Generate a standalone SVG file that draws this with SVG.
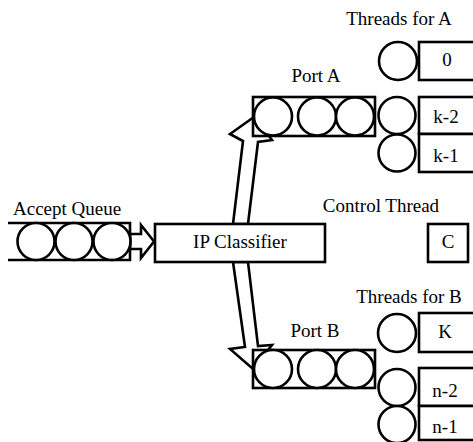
<svg xmlns="http://www.w3.org/2000/svg" width="473" height="442" viewBox="0 0 473 442">
<style>
  .ln { fill: #fff; stroke: #000; stroke-width: 2.6; stroke-linejoin: miter; }
  .open { fill: none; stroke: #000; stroke-width: 2.6; }
  .lbl { font-family: "Liberation Serif", "Times New Roman", serif; font-size: 19px; fill: #000; }
  .mid { text-anchor: middle; }
</style>
<rect width="473" height="442" fill="#fff"/>

<g id="connectors">
  <polygon class="ln" points="130,234 141,234 141,225 154,241.5 141,258 141,249 130,249"/>
  <polygon class="ln" points="233,224 243,141 230,134 254,117 272,140 258,142 248,224"/>
  <polygon class="ln" points="233,262 245,347 230,349 253,369 272,345 258,346 248,262"/>
</g>

<g id="accept-queue">
  <text class="lbl" x="13" y="215">Accept Queue</text>
  <rect x="8" y="223" width="122" height="37" fill="#fff" stroke="none"/>
  <path class="open" d="M8,223 H130 V260 H8"/>
  <circle class="ln" cx="36" cy="241.5" r="18.5"/>
  <circle class="ln" cx="74" cy="241.5" r="18.5"/>
  <circle class="ln" cx="112" cy="241.5" r="18.5"/>
</g>

<g id="ip-classifier">
  <rect class="ln" x="155" y="224" width="170" height="38"/>
  <text class="lbl mid" x="240" y="248">IP Classifier</text>
</g>

<g id="port-a">
  <text class="lbl mid" x="316" y="82">Port A</text>
  <rect class="ln" x="253" y="97" width="122" height="39"/>
  <circle class="ln" cx="273" cy="116.5" r="19"/>
  <circle class="ln" cx="317" cy="116.5" r="19"/>
  <circle class="ln" cx="355" cy="116.5" r="19"/>
</g>

<g id="port-b">
  <text class="lbl mid" x="315" y="337">Port B</text>
  <rect class="ln" x="253" y="350" width="122" height="38"/>
  <circle class="ln" cx="273" cy="369" r="19"/>
  <circle class="ln" cx="317" cy="369" r="19"/>
  <circle class="ln" cx="355" cy="369" r="19"/>
</g>

<g id="threads-a">
  <text class="lbl mid" x="399" y="25">Threads for A</text>
  <g id="thread-a-0">
    <circle class="ln" cx="398" cy="61" r="19"/>
    <rect class="ln" x="419" y="42" width="70" height="38"/>
    <text class="lbl mid" x="447" y="66">0</text>
  </g>
  <g id="thread-a-k2">
    <circle class="ln" cx="397" cy="115.5" r="18.5"/>
    <rect class="ln" x="419" y="97" width="70" height="37"/>
    <text class="lbl mid" x="446" y="123">k-2</text>
  </g>
  <g id="thread-a-k1">
    <circle class="ln" cx="397" cy="153" r="18.5"/>
    <rect class="ln" x="419" y="134" width="70" height="38"/>
    <text class="lbl mid" x="446" y="162">k-1</text>
  </g>
</g>

<g id="control-thread">
  <text class="lbl mid" x="381" y="212">Control Thread</text>
  <rect class="ln" x="428" y="224" width="40" height="38"/>
  <text class="lbl mid" x="448" y="248">C</text>
</g>

<g id="threads-b">
  <text class="lbl mid" x="409" y="303">Threads for B</text>
  <g id="thread-b-K">
    <circle class="ln" cx="397" cy="333" r="19"/>
    <rect class="ln" x="419" y="313" width="70" height="39"/>
    <text class="lbl mid" x="445" y="338">K</text>
  </g>
  <g id="thread-b-n2">
    <circle class="ln" cx="397" cy="387.5" r="18.5"/>
    <rect class="ln" x="419" y="368" width="70" height="38"/>
    <text class="lbl mid" x="445" y="397">n-2</text>
  </g>
  <g id="thread-b-n1">
    <circle class="ln" cx="397" cy="424.5" r="18.5"/>
    <rect class="ln" x="419" y="406" width="70" height="34"/>
    <text class="lbl mid" x="445" y="433">n-1</text>
  </g>
</g>
</svg>
